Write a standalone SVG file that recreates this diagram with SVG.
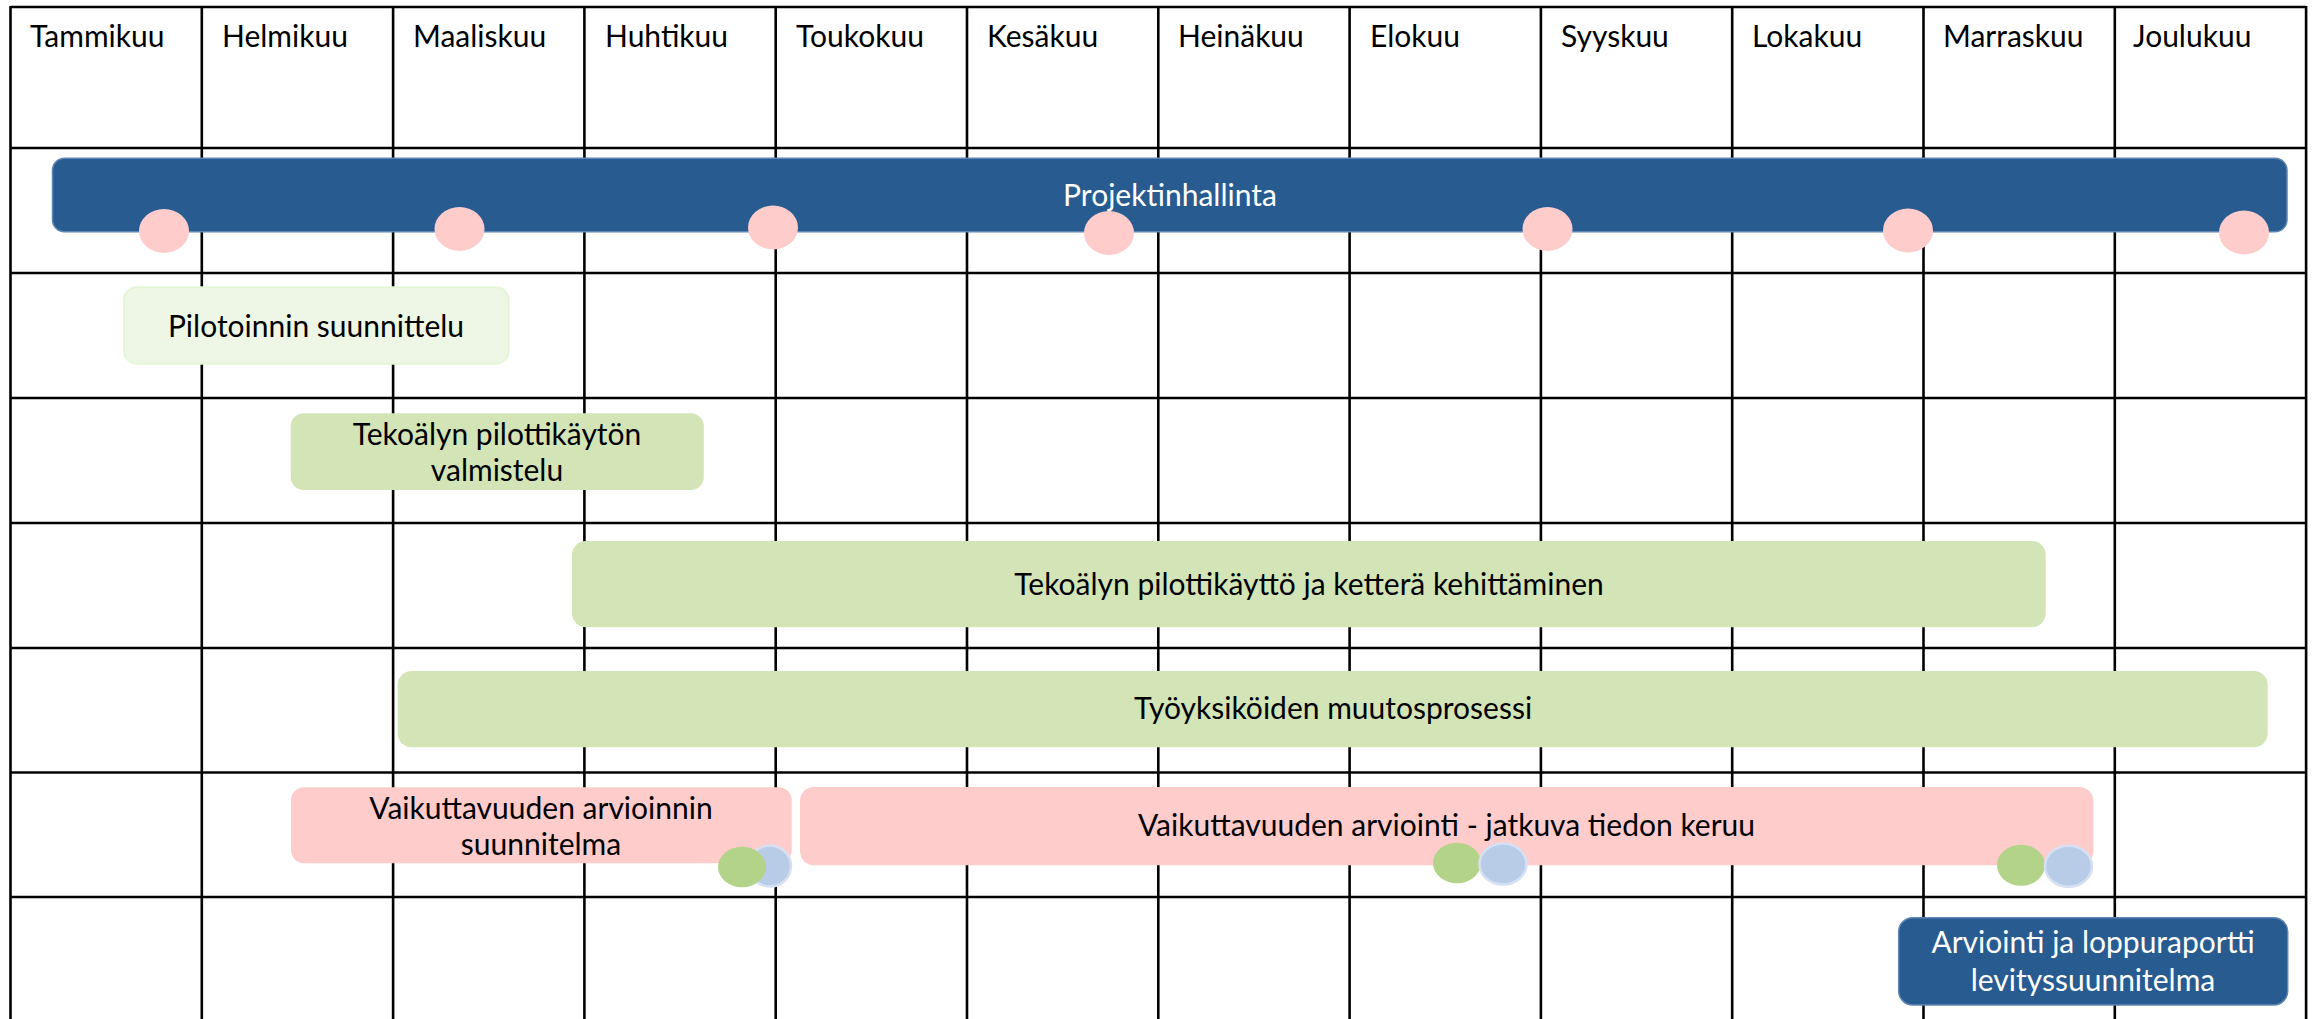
<svg xmlns="http://www.w3.org/2000/svg" width="2318" height="1019" viewBox="0 0 2318 1019">
<style>
.grid line{stroke:#000;stroke-width:2.6}
.t{font-family:Lato,"Liberation Sans",sans-serif;font-size:30px;fill:#000}
.w{fill:#fff}
.c{text-anchor:middle}
.blue{fill:#285C91;stroke:#5F86B2;stroke-width:1.5}
.lg{fill:#D3E5B7}
.vlg{fill:#EEF6E5;stroke:#E4F6D6;stroke-width:2}
.pk{fill:#FFCCCC}
.gdot{fill:#B3D389}
.bdot{fill:#B8CCE8;stroke:#D5E0F2;stroke-width:2.5}
</style>
<rect width="2318" height="1019" fill="#fff"/>
<g id="grid" class="grid">
<line x1="10.5" y1="7" x2="2306" y2="7"/>
<line x1="10.5" y1="148" x2="2306" y2="148"/>
<line x1="10.5" y1="273" x2="2306" y2="273"/>
<line x1="10.5" y1="398" x2="2306" y2="398"/>
<line x1="10.5" y1="523" x2="2306" y2="523"/>
<line x1="10.5" y1="648" x2="2306" y2="648"/>
<line x1="10.5" y1="772.5" x2="2306" y2="772.5"/>
<line x1="10.5" y1="897" x2="2306" y2="897"/>
<line x1="10.5" y1="6" x2="10.5" y2="1019"/>
<line x1="201.8" y1="6" x2="201.8" y2="1019"/>
<line x1="393.1" y1="6" x2="393.1" y2="1019"/>
<line x1="584.4" y1="6" x2="584.4" y2="1019"/>
<line x1="775.7" y1="6" x2="775.7" y2="1019"/>
<line x1="967" y1="6" x2="967" y2="1019"/>
<line x1="1158.3" y1="6" x2="1158.3" y2="1019"/>
<line x1="1349.6" y1="6" x2="1349.6" y2="1019"/>
<line x1="1540.9" y1="6" x2="1540.9" y2="1019"/>
<line x1="1732.2" y1="6" x2="1732.2" y2="1019"/>
<line x1="1923.5" y1="6" x2="1923.5" y2="1019"/>
<line x1="2114.8" y1="6" x2="2114.8" y2="1019"/>
<line x1="2306.1" y1="6" x2="2306.1" y2="1019"/>
</g>
<g id="months" class="t">
<text x="30" y="47">Tammikuu</text>
<text x="222" y="47">Helmikuu</text>
<text x="413" y="47">Maaliskuu</text>
<text x="605" y="47">Huhtikuu</text>
<text x="796" y="47">Toukokuu</text>
<text x="987" y="47">Kesäkuu</text>
<text x="1178" y="47">Heinäkuu</text>
<text x="1370" y="47">Elokuu</text>
<text x="1561" y="47">Syyskuu</text>
<text x="1752" y="47">Lokakuu</text>
<text x="1943" y="47">Marraskuu</text>
<text x="2133" y="47">Joulukuu</text>
</g>
<g id="projektinhallinta">
<rect class="blue" x="52.5" y="158.3" width="2234.5" height="73.5" rx="12"/>
<text class="t w c" x="1170" y="206">Projektinhallinta</text>
<ellipse class="pk" cx="164" cy="231" rx="25" ry="22"/>
<ellipse class="pk" cx="459.5" cy="229" rx="25" ry="22"/>
<ellipse class="pk" cx="773" cy="227.5" rx="25" ry="22"/>
<ellipse class="pk" cx="1109" cy="233" rx="25" ry="22"/>
<ellipse class="pk" cx="1547.5" cy="229" rx="25" ry="22"/>
<ellipse class="pk" cx="1908" cy="230.5" rx="25" ry="22"/>
<ellipse class="pk" cx="2244" cy="232.5" rx="25" ry="22"/>
</g>
<g id="pilotoinnin-suunnittelu">
<rect class="vlg" x="124" y="287.3" width="384.7" height="76.4" rx="13"/>
<text class="t c" x="316" y="337">Pilotoinnin suunnittelu</text>
</g>
<g id="valmistelu">
<rect class="lg" x="290.7" y="413.3" width="413.1" height="76.7" rx="13"/>
<text class="t c" x="497" y="444.5">Tekoälyn pilottikäytön</text>
<text class="t c" x="497" y="481">valmistelu</text>
</g>
<g id="pilottikaytto">
<rect class="lg" x="572" y="541" width="1473.7" height="86.3" rx="14"/>
<text class="t c" x="1309" y="595">Tekoälyn pilottikäyttö ja ketterä kehittäminen</text>
</g>
<g id="muutosprosessi">
<rect class="lg" x="397.7" y="671" width="1870" height="76.3" rx="14"/>
<text class="t c" x="1333" y="719">Työyksiköiden muutosprosessi</text>
</g>
<g id="arvioinnin-suunnitelma">
<rect class="pk" x="291" y="787.3" width="500.7" height="76" rx="13"/>
<text class="t c" x="541" y="819">Vaikuttavuuden arvioinnin</text>
<text class="t c" x="541" y="855">suunnitelma</text>
<ellipse class="bdot" cx="770" cy="866" rx="21" ry="20.5"/>
<ellipse class="gdot" cx="742" cy="867" rx="24" ry="20.3"/>
</g>
<g id="jatkuva-tiedon-keruu">
<rect class="pk" x="800" y="787" width="1293.3" height="78.3" rx="14"/>
<text class="t c" x="1446.5" y="836">Vaikuttavuuden arviointi - jatkuva tiedon keruu</text>
<ellipse class="gdot" cx="1457" cy="863" rx="24" ry="20.3"/>
<ellipse class="bdot" cx="1503" cy="864" rx="23.5" ry="20.5"/>
<ellipse class="gdot" cx="2021" cy="865.2" rx="24" ry="20.5"/>
<ellipse class="bdot" cx="2068.5" cy="866.3" rx="23.5" ry="20.5"/>
</g>
<g id="loppuraportti">
<rect class="blue" x="1898.7" y="917.7" width="389" height="87.3" rx="14"/>
<text class="t w c" x="2093" y="953">Arviointi ja loppuraportti</text>
<text class="t w c" x="2093" y="991">levityssuunnitelma</text>
</g>
<g id="connectors"/>
</svg>
